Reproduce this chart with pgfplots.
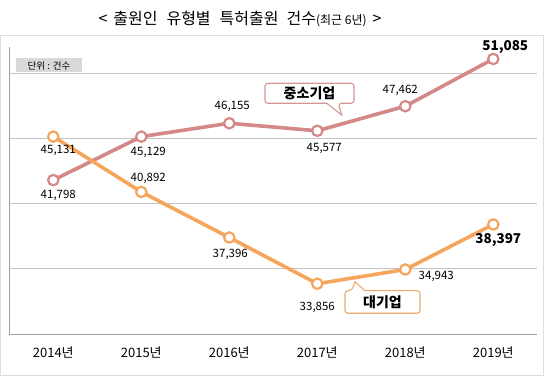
\documentclass[border=0pt]{standalone}
\usepackage{fontspec}
\setmainfont{Noto Sans CJK KR}
\usepackage{pgfplots}
\pgfplotsset{compat=1.18}
\definecolor{pinkline}{RGB}{212,136,136}
\definecolor{orangeline}{RGB}{246,166,92}
\definecolor{gridgray}{RGB}{195,195,195}
\definecolor{axisgray}{RGB}{160,160,160}
\definecolor{framegray}{RGB}{222,222,222}
\definecolor{unitgray}{RGB}{217,217,217}
\definecolor{pinkbox}{RGB}{214,150,150}
\definecolor{orangebox}{RGB}{240,170,110}
\begin{document}
\begin{tikzpicture}
\begin{scope}[x=1pt,y=-1pt,shift={(0pt,383pt)}]
\path[use as bounding box] (0,0) rectangle (552,383);
\draw[framegray, line width=1pt] (0.5,36) rectangle (543,376);
\node[font=\fontsize{16}{18}\selectfont, inner sep=0pt] at (240,19)
  {<\hspace{6pt}출원인\hspace{9pt}유형별\hspace{9pt}특허출원\hspace{8pt}건수{\fontsize{12}{14}\selectfont(최근 6년)}\hspace{6pt}>};
\fill[unitgray] (16,58) rectangle (82,72);
\node[font=\fontsize{9.5}{10}\selectfont, inner sep=0pt] at (49,65.5) {단위 : 건수};
\end{scope}
\begin{axis}[
  at={(9.3pt,49pt)}, anchor=south west,
  scale only axis, width=528pt, height=287pt,
  xmin=-0.5, xmax=5.5, ymin=30000, ymax=52000,
  axis x line=bottom, axis y line=left,
  axis line style={-, draw=axisgray, line width=0.9pt},
  xtick={0,1,2,3,4,5},
  xticklabels={2014년,2015년,2016년,2017년,2018년,2019년},
  xticklabel style={font=\fontsize{13}{14}\selectfont, yshift=-9pt},
  ytick={35000,40000,45000,50000}, yticklabels={},
  scaled y ticks=false,
  ymajorgrids, grid style={gridgray, line width=0.9pt},
  major tick length=0pt,
  clip=false,
]
\addplot[pinkline, line width=3.6pt, mark=*, mark size=5.2pt,
  mark options={draw=pinkline, fill=white, line width=2.2pt}] coordinates {
  (0,41798) (1,45129) (2,46155) (3,45577) (4,47462) (5,51085)};
\addplot[orangeline, line width=3.6pt, mark=*, mark size=5.2pt,
  mark options={draw=orangeline, fill=white, line width=2.2pt}] coordinates {
  (0,45131) (1,40892) (2,37396) (3,33856) (4,34943) (5,38397)};
% data labels
\begin{scope}[every node/.style={font=\fontsize{11.5}{12}\selectfont, inner sep=0pt}]
\node[xshift=5pt, yshift=-15.7pt] at (axis cs:0,41798) {41,798};
\node[xshift=7pt, yshift=-15.8pt] at (axis cs:1,45129) {45,129};
\node[xshift=3pt, yshift=16.8pt] at (axis cs:2,46155) {46,155};
\node[xshift=7pt, yshift=-18pt] at (axis cs:3,45577) {45,577};
\node[xshift=-5pt, yshift=15.8pt] at (axis cs:4,47462) {47,462};
\node[xshift=12pt, yshift=12.3pt, font=\fontsize{13.5}{14}\selectfont\bfseries] at (axis cs:5,51085) {51,085};
\node[xshift=5pt, yshift=-14pt] at (axis cs:0,45131) {45,131};
\node[xshift=7pt, yshift=13pt] at (axis cs:1,40892) {40,892};
\node[xshift=1pt, yshift=-17pt] at (axis cs:2,37396) {37,396};
\node[xshift=0pt, yshift=-24pt] at (axis cs:3,33856) {33,856};
\node[xshift=31pt, yshift=-7.4pt] at (axis cs:4,34943) {34,943};
\node[xshift=5pt, yshift=-15.4pt, font=\fontsize{13.5}{14}\selectfont\bfseries] at (axis cs:5,38397) {38,397};
\end{scope}
\end{axis}
\begin{scope}[x=1pt,y=-1pt,shift={(0pt,383pt)}]
% 중소기업 callout
\draw[pinkbox, line width=1.1pt, fill=white, rounded corners=3pt]
  (265,83.3) -- (354,83.3) -- (354,103.3) -- (338.3,103.3)
  [sharp corners] -- (341.7,115) -- (326.7,103.3)
  [rounded corners=3pt] -- (265,103.3) -- cycle;
\node[font=\fontsize{14}{15}\selectfont\bfseries, inner sep=0pt] at (309.5,93.3) {중소기업};
% 대기업 callout
\draw[orangebox, line width=1.1pt, fill=white, rounded corners=3pt]
  (345,290.7) -- (351.7,290.7)
  [sharp corners] -- (355,281.7) -- (365,290.7)
  [rounded corners=3pt] -- (420,290.7) -- (420,313.3) -- (345,313.3) -- cycle;
\node[font=\fontsize{14}{15}\selectfont\bfseries, inner sep=0pt] at (382.5,302) {대기업};
\end{scope}
\end{tikzpicture}
\end{document}
